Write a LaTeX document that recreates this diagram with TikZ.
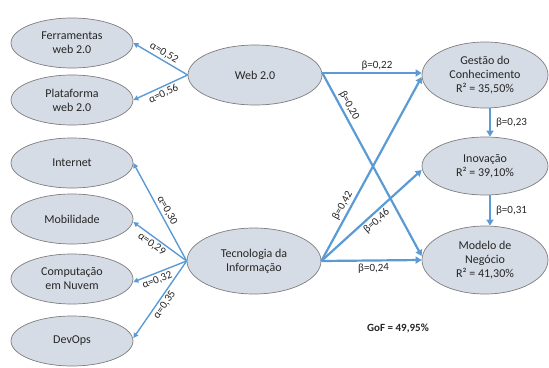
\documentclass[tikz,border=0pt]{standalone}
\usepackage{fontspec}
\setmainfont{Carlito}
\usetikzlibrary{shapes.geometric,arrows.meta}
\definecolor{nodefill}{RGB}{214,220,229}
\definecolor{nodeline}{RGB}{125,125,125}
\definecolor{arrowblue}{RGB}{91,155,213}
\definecolor{txt}{RGB}{38,38,38}
\begin{document}
\begin{tikzpicture}[x=1pt,y=-1pt,
  lat/.style={ellipse,draw=nodeline,line width=0.7pt,fill=nodefill,inner sep=0pt,align=center,text=txt,font=\fontsize{12}{14}\selectfont},
  leftnode/.style={lat,minimum width=122pt,minimum height=50pt},
  thinrev/.style={draw=arrowblue,line width=1.4pt,{Triangle[length=5pt,width=5pt]}-},
  thick/.style={draw=arrowblue,line width=2.2pt,-{Triangle[length=6pt,width=7pt]}},
  lab/.style={font=\fontsize{11}{13}\selectfont,text=txt,inner sep=2pt,sloped}
]
\useasboundingbox (0,0) rectangle (549,367);
% left measurement nodes
\node[leftnode] (fer) at (72,43) {Ferramentas\\web 2.0};
\node[leftnode] (pla) at (72,100) {Plataforma\\web 2.0};
\node[leftnode] (int) at (72,163) {Internet};
\node[leftnode] (mob) at (72,219) {Mobilidade};
\node[leftnode] (com) at (72,279) {Computação\\em Nuvem};
\node[leftnode] (dev) at (72,341) {DevOps};
% central constructs
\node[lat,minimum width=134pt,minimum height=60pt] (web) at (255,75) {Web 2.0};
\node[lat,minimum width=134pt,minimum height=66pt] (ti) at (254,261) {Tecnologia da\\Informação};
% right constructs
\node[lat,minimum width=126pt,minimum height=66pt] (ges) at (485,75) {Gestão do\\Conhecimento\\R² = 35,50\%};
\node[lat,minimum width=126pt,minimum height=58pt] (ino) at (485,166) {Inovação\\R² = 39,10\%};
\node[lat,minimum width=126pt,minimum height=68pt] (mod) at (485,260) {Modelo de\\Negócio\\R² = 41,30\%};
% outer loadings
\draw[thinrev] (fer.east) -- node[lab,above,pos=0.5] {α=0,52} (web.west);
\draw[thinrev] (pla.east) -- node[lab,below,pos=0.5] {α=0,56} (web.west);
\draw[thinrev] (int.east) -- node[lab,above,pos=0.52] {α=0,30} (ti.west);
\draw[thinrev] ([yshift=-3pt]mob.east) -- node[lab,below,pos=0.42] {α=0,29} (ti.west);
\draw[thinrev] ([yshift=-3pt]com.east) -- node[lab,below,pos=0.4] {α=0,32} (ti.west);
\draw[thinrev] ([yshift=3pt]dev.east) -- node[lab,below,pos=0.48] {α=0,35} (ti.west);
% structural paths
\draw[thick] ([yshift=2pt]web.east) -- node[lab,above,pos=0.55] {β=0,22} ([yshift=2pt]ges.west);
\draw[thick] ([yshift=2pt]web.east) -- node[lab,above,pos=0.2] {β=0,20} ([yshift=4pt]mod.west);
\draw[thick] (ti.east) -- node[lab,above,pos=0.28] {β=0,42} ([yshift=-2pt]ges.west);
\draw[thick] (ti.east) -- node[lab,below,pos=0.5] {β=0,46} ([yshift=-4pt]ino.west);
\draw[thick] (ti.east) -- node[lab,below,pos=0.52] {β=0,24} (mod.west);
\draw[thick] ([xshift=5pt]ges.south) -- node[lab,right=3pt,sloped=false] {β=0,23} ([xshift=5pt]ino.north);
\draw[thick] ([xshift=5pt]ino.south) -- node[lab,right=3pt,sloped=false] {β=0,31} ([xshift=5pt]mod.north);
% fit index
\node[font=\bfseries\fontsize{11}{13}\selectfont,text=txt] (gof) at (398,328) {GoF = 49,95\%};
\end{tikzpicture}
\end{document}
